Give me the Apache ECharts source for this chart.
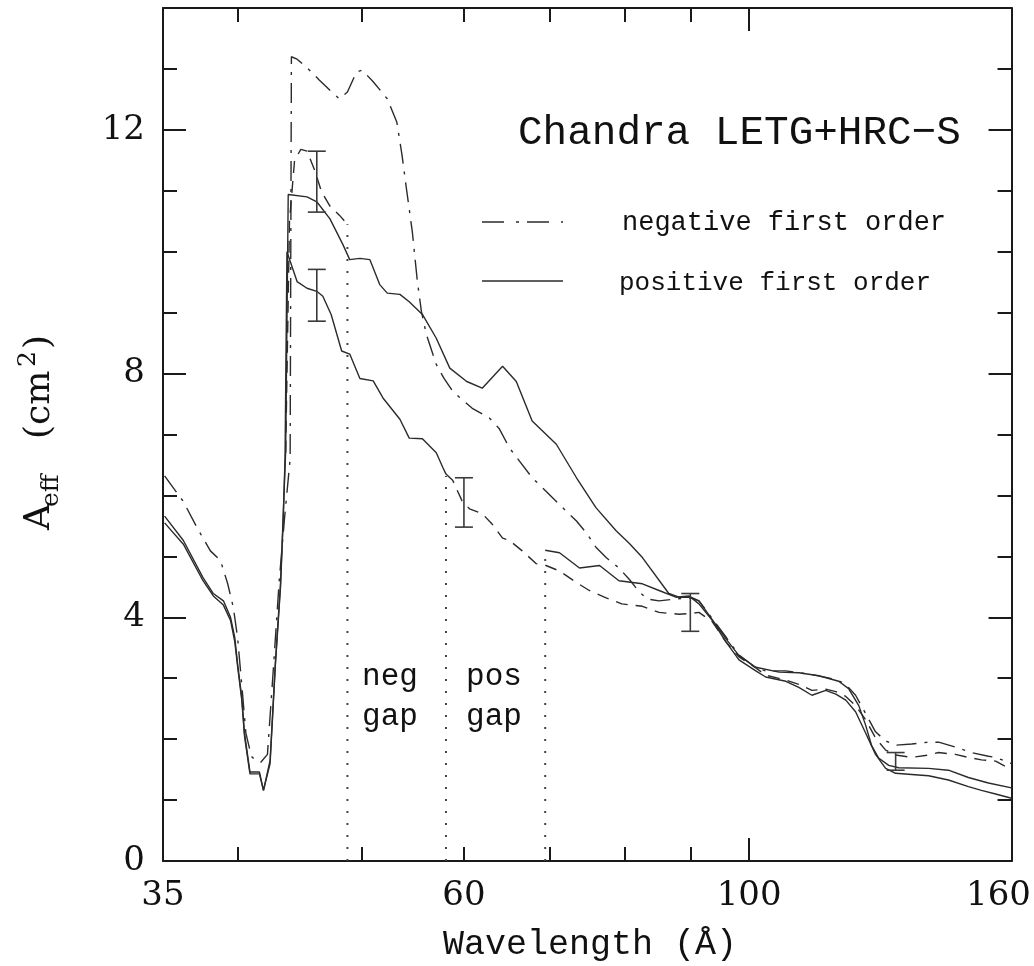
<!DOCTYPE html>
<html><head><meta charset="utf-8">
<script src="https://cdn.jsdelivr.net/npm/echarts@6/dist/echarts.min.js"></script>
<style>html,body{margin:0;padding:0;background:#fff}#c{width:1034px;height:966px}</style>
</head><body><div id="c"></div>
<script>
// ---------- data (wavelength in Angstrom, effective area in cm^2) ----------
// negative first order, upper curve (dash-dot)
const negUpperWl = [35.1,36.3,37.2,38.1,38.8,39.3,39.7,40.0,40.3,40.6,41.0,41.3,41.7,42.2,42.6,43.1,43.5,43.95,44.05,44.5,45.4,46.3,47.2,48.0,48.7,49.5,50.0,51.0,52.3,53.2,53.7,54.1,54.7,55.2,55.6,56.1,57.1,57.9,58.8,60.9,62.8,63.9,65.1,66.3,67.8,69.5,71.6,73.4,74.8,76.0,77.4,79.2,80.7,82.1,83.3,85.1,87.7,90.1,91.4,93.6,95.9,98.2,101.2,103.0,106.8,111.9,116.8,118.9,121.0,123.2,125.4,127.7,130.0,133.8,137.9,140.4,144.7,148.9,153.5,155.5,160];
const negUpperA  = [6.32,5.9,5.47,5.09,4.93,4.55,4.16,3.67,2.9,2.1,1.72,1.65,1.62,1.75,3.0,4.6,5.6,6.6,13.2,13.16,13.0,12.82,12.65,12.51,12.62,12.95,12.98,12.79,12.51,12.13,11.59,11.07,10.33,9.51,9.02,8.64,8.15,7.92,7.71,7.43,7.27,7.1,6.78,6.56,6.29,6.07,5.8,5.58,5.37,5.15,4.98,4.81,4.62,4.42,4.3,4.27,4.3,4.32,4.27,3.98,3.68,3.38,3.17,3.12,3.12,3.06,2.98,2.9,2.72,2.42,2.12,1.97,1.9,1.92,1.95,1.95,1.87,1.78,1.72,1.7,1.6];
// positive first order, upper curve (solid)
const posUpperWl = [35.1,36.3,37.6,38.3,39.0,39.5,39.8,40.0,40.3,40.5,40.9,41.6,41.9,42.4,42.8,43.2,43.4,43.6,43.8,45.3,46.1,47.2,48.3,48.9,49.8,50.7,51.6,52.3,53.5,54.4,55.7,57.1,58.5,60.3,62.0,64.3,65.9,67.8,70.8,73.4,76.0,78.8,80.7,82.6,86.6,88.2,90.1,91.4,94.2,95.9,98.2,101.2,105.5,109.3,113.3,117.4,119.5,121.7,123.2,124.5,126.1,128.4,130.7,137.9,142.9,148.1,153.5,160];
const posUpperA  = [5.66,5.26,4.65,4.39,4.27,4.0,3.67,3.24,2.69,2.1,1.46,1.46,1.16,1.65,3.24,4.55,5.63,6.73,10.94,10.9,10.82,10.54,10.12,9.87,9.89,9.87,9.46,9.32,9.3,9.18,8.97,8.58,8.09,7.87,7.76,8.12,7.87,7.22,6.84,6.29,5.8,5.42,5.21,4.98,4.39,4.33,4.33,4.27,3.88,3.65,3.37,3.18,3.1,3.09,3.04,2.95,2.83,2.55,2.23,1.9,1.69,1.57,1.53,1.52,1.49,1.37,1.28,1.2];
// negative first order, lower curve: before the negative-order gap
const negLowerAWl = [43.6,43.9,44.3,44.8,45.3,45.9,46.5,47.2,48.0,48.7];
const negLowerAA  = [6.7,10.5,11.5,11.68,11.65,11.35,10.98,10.75,10.6,10.45];
// negative first order, lower curve: after the gap
const negLowerBWl = [58.1,58.8,59.8,60.6,62.0,63.1,64.3,65.1,66.6,68.3,69.5,71.2,73.4,75.1,77.4,79.6,82.6,85.1,88.2,89.8,91.4,93.6,95.9,98.2,101.2,103.0,106.8,109.3,111.9,114.7,116.8,118.9,121.0,123.2,125.4,127.7,130.0,133.8,137.9,140.4,144.7,148.1,151.6,155.5,160];
const negLowerBA  = [6.35,6.25,5.91,5.78,5.7,5.53,5.3,5.26,5.09,4.88,4.85,4.76,4.57,4.44,4.32,4.22,4.18,4.08,4.05,4.06,4.08,3.93,3.6,3.35,3.17,3.05,2.97,2.9,2.8,2.82,2.78,2.7,2.55,2.32,2.02,1.82,1.74,1.7,1.74,1.78,1.75,1.7,1.66,1.64,1.5];
// positive first order, lower curve: before the positive-order gap
const posLowerAWl = [35.1,36.3,37.6,38.3,39.0,39.5,39.8,40.0,40.3,40.5,40.9,41.6,41.9,42.4,42.8,43.2,43.4,43.55,43.7,44.5,45.3,46.1,46.6,47.3,48.2,48.9,49.8,51.0,51.9,53.5,54.4,55.7,57.1,57.8,58.1];
const posLowerAA  = [5.55,5.2,4.6,4.35,4.2,3.95,3.6,3.2,2.65,2.05,1.43,1.43,1.16,1.6,3.2,4.5,5.55,6.6,10.0,9.51,9.4,9.35,9.27,8.97,8.37,8.32,7.92,7.88,7.6,7.25,6.94,6.93,6.7,6.45,6.35];
// positive first order, lower curve: after the gap
const posLowerBWl = [69.4,71.2,73.8,76.5,79.2,82.6,85.1,87.7,89.8,91.4,93.6,95.9,98.2,101.2,103.0,106.8,109.3,111.9,114.7,116.8,118.9,121.0,123.2,125.4,127.7,130.0,133.8,137.9,142.9,148.1,151.6,155.5,160];
const posLowerBA  = [5.1,5.06,4.81,4.85,4.6,4.55,4.44,4.33,4.35,4.22,3.95,3.6,3.3,3.12,3.02,2.95,2.85,2.72,2.8,2.74,2.64,2.45,2.1,1.75,1.52,1.44,1.42,1.4,1.33,1.22,1.16,1.1,1.03];
// chip-gap edges (dotted verticals)
const gapWl  = [48.7, 58.1, 69.4];
const gapTop = [10.45, 6.32, 5.0];
// error bars
const errWl   = [46.1, 46.1, 60.0, 90.0, 130.0];
const errLow  = [10.65, 8.86, 5.48, 3.77, 1.49];
const errHigh = [11.65, 9.71, 6.29, 4.39, 1.78];
// ticks and labels
const xLabelVals = [35, 60, 100, 160];
const xMinorTicks = [40, 50, 60, 70, 80, 90];
const xMajorTicks = [100];
const yLabelVals = [0, 4, 8, 12];

// ---------- chart ----------
const pairs = (xs, ys) => xs.map((x, i) => [x, ys[i]]);
const LINE = '#2b2b2b';
const AX = '#1a1a1a';
const NUMFONT = 'DejaVu Serif';
const DASHDOT = [20, 8, 3, 8];
const DASH = [12, 8];

const xBase = {type: 'log', logBase: 10, min: 35, max: 160, splitLine: {show: false}, axisPointer: {show: false}};
const yBase = {type: 'value', min: 0, max: 14, splitLine: {show: false}};
const axLine = {show: true, onZero: false, lineStyle: {color: AX, width: 2}};
const noLine = {show: false, onZero: false};
const tickStyle = {color: AX, width: 2};

const lineSeries = (data, dash) => ({
  type: 'line', data: data, xAxisIndex: 0, yAxisIndex: 0, symbol: 'none', smooth: false,
  lineStyle: {color: LINE, width: 1.4, type: dash || 'solid'}, silent: true, z: 3
});

const series = [
  lineSeries(pairs(negUpperWl, negUpperA), DASHDOT),
  lineSeries(pairs(posUpperWl, posUpperA)),
  lineSeries(pairs(negLowerAWl, negLowerAA), DASH),
  lineSeries(pairs(negLowerBWl, negLowerBA), DASH),
  lineSeries(pairs(posLowerAWl, posLowerAA)),
  lineSeries(pairs(posLowerBWl, posLowerBA))
];
gapWl.forEach((w, i) => {
  series.push({
    type: 'line', data: [[w, 0], [w, gapTop[i]]], symbol: 'none', silent: true,
    lineStyle: {color: '#444', width: 2, type: [2, 10]}, z: 2
  });
});
series.push({
  type: 'custom', silent: true, z: 4,
  data: errWl.map((w, i) => [w, errLow[i], errHigh[i]]),
  encode: {x: 0, y: [1, 2]},
  renderItem: function (params, api) {
    const x = api.value(0);
    const lo = api.coord([x, api.value(1)]);
    const hi = api.coord([x, api.value(2)]);
    const hw = 9;
    const st = {stroke: '#3a3a3a', lineWidth: 1.6};
    return {type: 'group', children: [
      {type: 'line', shape: {x1: lo[0], y1: lo[1], x2: hi[0], y2: hi[1]}, style: st},
      {type: 'line', shape: {x1: lo[0] - hw, y1: lo[1], x2: lo[0] + hw, y2: lo[1]}, style: st},
      {type: 'line', shape: {x1: hi[0] - hw, y1: hi[1], x2: hi[0] + hw, y2: hi[1]}, style: st}
    ]};
  }
});

const option = {
  animation: false,
  backgroundColor: '#ffffff',
  grid: {left: 163, top: 8, width: 850, height: 853, containLabel: false},
  xAxis: [
    Object.assign({}, xBase, {position: 'bottom', axisLine: axLine,
      axisTick: {show: true, inside: true, length: 14, customValues: xMinorTicks, lineStyle: tickStyle},
      axisLabel: {show: true, customValues: xLabelVals, margin: 18, color: '#111', fontFamily: NUMFONT, fontSize: 34,
        formatter: function (v) { const r = Math.round(v); return r === 160 ? '{r|160}' : String(r); },
        rich: {r: {fontFamily: NUMFONT, fontSize: 34, color: '#111', padding: [0, 26, 0, 0]}}}}),
    Object.assign({}, xBase, {position: 'bottom', axisLine: noLine,
      axisTick: {show: true, inside: true, length: 23, customValues: xMajorTicks, lineStyle: tickStyle},
      axisLabel: {show: false}}),
    Object.assign({}, xBase, {position: 'top', axisLine: axLine,
      axisTick: {show: true, inside: true, length: 14, customValues: xMinorTicks, lineStyle: tickStyle},
      axisLabel: {show: false}}),
    Object.assign({}, xBase, {position: 'top', axisLine: noLine,
      axisTick: {show: true, inside: true, length: 23, customValues: xMajorTicks, lineStyle: tickStyle},
      axisLabel: {show: false}})
  ],
  yAxis: [
    Object.assign({}, yBase, {position: 'left', interval: 4, axisLine: axLine,
      axisTick: {show: true, inside: true, length: 23, lineStyle: tickStyle},
      axisLabel: {show: true, margin: 18, color: '#111', fontFamily: NUMFONT, fontSize: 34,
        formatter: function (v) { return yLabelVals.indexOf(v) >= 0 ? String(v) : ''; }}}),
    Object.assign({}, yBase, {position: 'left', interval: 1, axisLine: noLine,
      axisTick: {show: true, inside: true, length: 14, lineStyle: tickStyle}, axisLabel: {show: false}}),
    Object.assign({}, yBase, {position: 'right', interval: 4, axisLine: axLine,
      axisTick: {show: true, inside: true, length: 23, lineStyle: tickStyle}, axisLabel: {show: false}}),
    Object.assign({}, yBase, {position: 'right', interval: 1, axisLine: noLine,
      axisTick: {show: true, inside: true, length: 14, lineStyle: tickStyle}, axisLabel: {show: false}})
  ],
  series: series,
  graphic: [
    {type: 'text', left: 518, top: 113, style: {text: 'Chandra LETG+HRC\u2212S', font: '41px "Liberation Mono"', fill: '#111'}},
    {type: 'line', shape: {x1: 482, y1: 222, x2: 563, y2: 222}, style: {stroke: LINE, lineWidth: 1.6, lineDash: [22, 12, 3, 8]}},
    {type: 'line', shape: {x1: 482, y1: 281, x2: 563, y2: 281}, style: {stroke: LINE, lineWidth: 1.6}},
    {type: 'text', x: 622, y: 223, style: {text: 'negative first order', font: '27px "Liberation Mono"', fill: '#111', verticalAlign: 'middle'}},
    {type: 'text', x: 619, y: 283, style: {text: 'positive first order', font: '26px "Liberation Mono"', fill: '#111', verticalAlign: 'middle'}},
    {type: 'text', x: 390, y: 677, style: {text: 'neg', font: '31px "Liberation Mono"', fill: '#111', align: 'center', verticalAlign: 'middle'}},
    {type: 'text', x: 390, y: 717, style: {text: 'gap', font: '31px "Liberation Mono"', fill: '#111', align: 'center', verticalAlign: 'middle'}},
    {type: 'text', x: 494, y: 677, style: {text: 'pos', font: '31px "Liberation Mono"', fill: '#111', align: 'center', verticalAlign: 'middle'}},
    {type: 'text', x: 494, y: 717, style: {text: 'gap', font: '31px "Liberation Mono"', fill: '#111', align: 'center', verticalAlign: 'middle'}},
    {type: 'text', x: 590, y: 945, style: {text: 'Wavelength (\u00c5)', font: '35px "Liberation Mono"', fill: '#111', align: 'center', verticalAlign: 'middle'}},
    {type: 'group', x: 40, y: 435, rotation: Math.PI / 2, children: [
      {type: 'text', x: -95, y: 0, style: {text: 'A', font: '36px "DejaVu Serif"', fill: '#111', verticalAlign: 'middle'}},
      {type: 'text', x: -72, y: 11, style: {text: 'eff', font: '25px "DejaVu Serif"', fill: '#111', verticalAlign: 'middle'}},
      {type: 'text', x: -4, y: 0, style: {text: '(cm', font: '36px "DejaVu Serif"', fill: '#111', verticalAlign: 'middle'}},
      {type: 'text', x: 68, y: -12, style: {text: '2', font: '25px "DejaVu Serif"', fill: '#111', verticalAlign: 'middle'}},
      {type: 'text', x: 86, y: 0, style: {text: ')', font: '36px "DejaVu Serif"', fill: '#111', verticalAlign: 'middle'}}
    ]}
  ]
};
const chart = echarts.init(document.getElementById('c'), null, {renderer: 'canvas'});
chart.setOption(option);
</script>
</body></html>
